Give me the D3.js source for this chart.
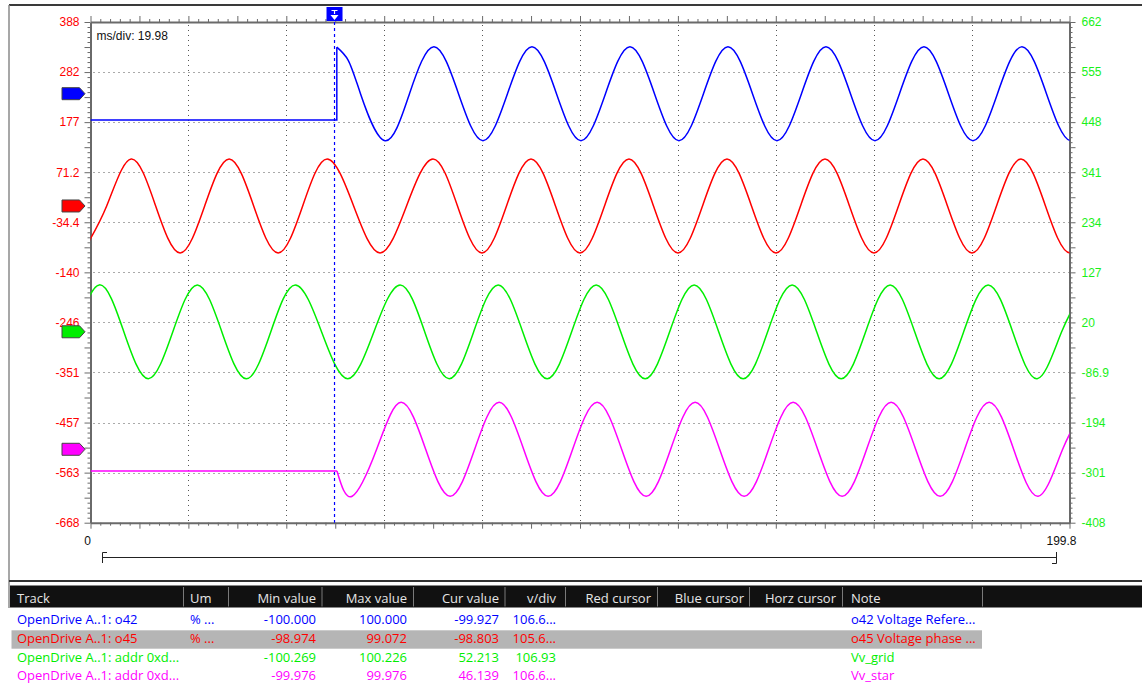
<!DOCTYPE html>
<html lang="en">
<head>
<meta charset="UTF-8">
<title>OpenDrive scope capture</title>
<script src="https://d3js.org/d3.v7.min.js"></script>
<style>
  body { margin: 0; background: #fff; }
  svg { display: block; }
</style>
</head>
<body>
<div id="scope"></div>
<script>
const msDomain = [0, 199.8];
const msPerDiv = "19.98";
const triggerMs = 49.8;

const leftTickVals   = [388, 282.4, 176.8, 71.2, -34.4, -140, -245.6, -351.2, -456.8, -562.4, -668];
const leftTickLabels = ["388", "282", "177", "71.2", "-34.4", "-140", "-246", "-351", "-457", "-563", "-668"];
const rightTickVals   = [662, 555, 448, 341, 234, 127, 20, -86.9, -194, -301, -408];
const rightTickLabels = ["662", "555", "448", "341", "234", "127", "20", "-86.9", "-194", "-301", "-408"];
const xTickLabels = ["0", "199.8"];

// o42 Voltage reference (blue): idle level, then steps onto the sine at the trigger
const o42Idle = -56, o42StepMs = 50.27;
const o42Ms  = [50.27, 52.6, 55.1, 60.1, 65.1, 70.1, 75.1, 80.1, 85.1, 90.1, 95.1, 100.1, 105.1, 110.1, 115.1, 120.1,
                125.1, 130.1, 135.1, 140.1, 145.1, 150.1, 155.1, 160.1, 165.1, 170.1, 175.1, 180.1, 185.1, 190.1,
                195.1, 200.1, 205.1];
const o42Val = [99, 71, 0, -100, 0, 100, 0, -100, 0, 100, 0, -100, 0, 100, 0, -100,
                0, 100, 0, -100, 0, 100, 0, -100, 0, 100, 0, -100, 0, 100,
                0, -100, 0];

// o45 Voltage phase (red) - left axis
const o45Ms  = [-1.7, 3.3, 8.3, 13.3, 18.3, 23.3, 28.3, 33.3, 38.3, 43.3, 48.3, 53.7, 59.1, 64.5, 69.9, 74.9,
                79.9, 84.9, 89.9, 94.9, 99.9, 104.9, 109.9, 114.9, 119.9, 124.9, 129.9, 134.9, 139.9, 144.9,
                149.9, 154.9, 159.9, 164.9, 169.9, 174.9, 179.9, 184.9, 189.9, 194.9, 199.9, 204.9];
const o45Val = [-99, 0, 99.1, 0, -99, 0, 99.1, 0, -99, 0, 99.1, 0, -99, 0, 99.1, 0,
                -99, 0, 99.1, 0, -99, 0, 99.1, 0, -99, 0, 99.1, 0, -99, 0,
                99.1, 0, -99, 0, 99.1, 0, -99, 0, 99.1, 0, -99, 0];

// Vv_grid (green) - right axis
const gridMs  = [-8.2, -3.2, 1.8, 6.8, 11.8, 16.8, 21.8, 26.8, 31.8, 36.8, 41.8, 47.15, 52.5, 57.85, 63.2, 68.2,
                 73.2, 78.2, 83.2, 88.2, 93.2, 98.2, 103.2, 108.2, 113.2, 118.2, 123.2, 128.2, 133.2, 138.2,
                 143.2, 148.2, 153.2, 158.2, 163.2, 168.2, 173.2, 178.2, 183.2, 188.2, 193.2, 198.2, 203.2];
const gridVal = [-100.3, 0, 100.2, 0, -100.3, 0, 100.2, 0, -100.3, 0, 100.2, 0, -100.3, 0, 100.2, 0,
                 -100.3, 0, 100.2, 0, -100.3, 0, 100.2, 0, -100.3, 0, 100.2, 0, -100.3, 0,
                 100.2, 0, -100.3, 0, 100.2, 0, -100.3, 0, 100.2, 0, -100.3, 0, 100.2];

// Vv_star (magenta): idle level until the trigger
const starIdle = -46.2, starStepMs = 50.3;
const starMs  = [50.3, 53.4, 58.4, 63.4, 68.4, 73.4, 78.4, 83.4, 88.4, 93.4, 98.4, 103.4, 108.4, 113.4, 118.4, 123.4,
                 128.4, 133.4, 138.4, 143.4, 148.4, 153.4, 158.4, 163.4, 168.4, 173.4, 178.4, 183.4, 188.4, 193.4,
                 198.4, 203.4];
const starVal = [-46.2, -100, 0, 100, 0, -100, 0, 100, 0, -100, 0, 100, 0, -100, 0, 100,
                 0, -100, 0, 100, 0, -100, 0, 100, 0, -100, 0, 100, 0, -100,
                 0, 100];

// track table
const tableHeaders = ["Track", "Um", "Min value", "Max value", "Cur value", "v/div", "Red cursor", "Blue cursor", "Horz cursor", "Note"];
const trackNames = ["OpenDrive A..1: o42", "OpenDrive A..1: o45", "OpenDrive A..1: addr 0xd...", "OpenDrive A..1: addr 0xd..."];
const trackUnits = ["% ...", "% ...", "", ""];
const minVals = ["-100.000", "-98.974", "-100.269", "-99.976"];
const maxVals = ["100.000", "99.072", "100.226", "99.976"];
const curVals = ["-99.927", "-98.803", "52.213", "46.139"];
const vPerDiv = ["106.6...", "105.6...", "106.93", "106.6..."];
const notes = ["o42 Voltage Refere...", "o45 Voltage phase ...", "Vv_grid", "Vv_star"];

// ---------- layout ----------
const W = 1142, H = 684;
const plot = {left: 90.5, right: 1069.5, top: 22, bottom: 522.7};
const colors = {blue: "#0000ff", red: "#ff0000", green: "#00ee00", magenta: "#ff00ff"};
const trackColors = [colors.blue, colors.red, colors.green, colors.magenta];
const axisGrey = "#6a6a6a";

const svg = d3.select("#scope").append("svg")
    .attr("width", W).attr("height", H)
    .style("font-family", "'Liberation Sans', Arial, sans-serif");

// window frame
svg.append("line").attr("x1", 9).attr("x2", W).attr("y1", 5).attr("y2", 5)
    .attr("stroke", "#3a3a3a").attr("stroke-width", 2);
svg.append("line").attr("x1", 9).attr("x2", 9).attr("y1", 5).attr("y2", 608)
    .attr("stroke", "#8a8a8a").attr("stroke-width", 1.5);

// scales
const x = d3.scaleLinear(msDomain, [plot.left, plot.right]);
function trackScale(topVal, vdiv) {
    return d3.scaleLinear([topVal - 10 * vdiv, topVal], [plot.bottom, plot.top]);
}
const yLeft  = trackScale(388, 105.6);   // o45
const yRight = trackScale(662, 107);     // Vv_grid
const yO42   = trackScale(152.6, 106.6);
const yStar  = trackScale(909.7, 106.6);

// grid
const divMs = d3.range(1, 10).map(k => msDomain[0] + k * (msDomain[1] - msDomain[0]) / 10);
const divLeft = leftTickVals.slice(1, -1);
const grid = svg.append("g").attr("stroke", "#555").attr("stroke-width", 1).attr("stroke-dasharray", "1,4");
grid.selectAll(".vg").data(divMs).enter().append("line")
    .attr("x1", d => Math.round(x(d)) + 0.5).attr("x2", d => Math.round(x(d)) + 0.5)
    .attr("y1", plot.top + 3).attr("y2", plot.bottom);
grid.selectAll(".hg").data(divLeft).enter().append("line")
    .attr("y1", d => Math.round(yLeft(d)) + 0.5).attr("y2", d => Math.round(yLeft(d)) + 0.5)
    .attr("x1", plot.left + 3).attr("x2", plot.right);

// minor tick axes on all four sides
function tickLen(i) { return i % 10 === 0 || i % 5 === 0 ? 6 : 3; }
const msSub = d3.range(0, 101).map(k => k * (msDomain[1] - msDomain[0]) / 100);
const ySub = d3.range(0, 101).map(k => -668 + k * 10.56);

function minorAxis(axis, vals, transform, attr, sign) {
    const g = svg.append("g").attr("transform", transform)
        .call(axis.tickValues(vals).tickFormat("").tickSizeOuter(0));
    g.select(".domain").attr("stroke", axisGrey).attr("stroke-width", 2);
    g.selectAll(".tick line").attr("stroke", axisGrey).attr(attr, (d, i) => sign * tickLen(i));
    return g;
}
minorAxis(d3.axisTop(x), msSub, `translate(0,${plot.top})`, "y2", -1);
minorAxis(d3.axisBottom(x), msSub, `translate(0,${plot.bottom})`, "y2", 1);
minorAxis(d3.axisLeft(yLeft), ySub, `translate(${plot.left},0)`, "x2", -1);
minorAxis(d3.axisRight(yLeft), ySub, `translate(${plot.right},0)`, "x2", 1);

// tick labels
const leftAxis = svg.append("g").attr("transform", `translate(${plot.left},0)`)
    .call(d3.axisLeft(yLeft).tickValues(leftTickVals).tickSize(0).tickPadding(11)
        .tickFormat((d, i) => leftTickLabels[i]));
leftAxis.select(".domain").remove();
leftAxis.selectAll("text").attr("fill", colors.red).style("font-size", "12px")
    .style("font-family", "'Liberation Sans', Arial, sans-serif");

const rightAxis = svg.append("g").attr("transform", `translate(${plot.right},0)`)
    .call(d3.axisRight(yRight).tickValues(rightTickVals).tickSize(0).tickPadding(12)
        .tickFormat((d, i) => rightTickLabels[i]));
rightAxis.select(".domain").remove();
rightAxis.selectAll("text").attr("fill", "#19f019").style("font-size", "12px")
    .style("font-family", "'Liberation Sans', Arial, sans-serif");

svg.append("text").attr("x", x(msDomain[0]) - 3).attr("y", 545).attr("text-anchor", "middle")
    .attr("font-size", 12).attr("fill", "#111").text(xTickLabels[0]);
svg.append("text").attr("x", x(msDomain[1]) + 7).attr("y", 545).attr("text-anchor", "end")
    .attr("font-size", 12).attr("fill", "#111").text(xTickLabels[1]);

svg.append("text").attr("x", 96.5).attr("y", 40).attr("font-size", 12).attr("fill", "#111")
    .text("ms/div: " + msPerDiv);

// scroll bracket under the plot
const br = svg.append("g").attr("stroke", "#222").attr("stroke-width", 1).attr("fill", "none");
br.append("path").attr("d", "M107,552.5 H102.5 V563 M102.5,557.5 H1056.5 M1052,563.5 H1056.5 V552");

// traces
svg.append("clipPath").attr("id", "plotClip").append("rect")
    .attr("x", plot.left).attr("y", plot.top).attr("width", plot.right - plot.left).attr("height", plot.bottom - plot.top);
const traces = svg.append("g").attr("clip-path", "url(#plotClip)").attr("fill", "none").attr("stroke-width", 1.5);

const smooth = d3.line().curve(d3.curveNatural);
const straight = d3.line();

function drawTrack(ms, vals, yScale, color) {
    traces.append("path").attr("stroke", color)
        .attr("d", smooth(ms.map((t, i) => [x(t), yScale(vals[i])])));
}
// o42: flat idle, vertical step, then sine
traces.append("path").attr("stroke", colors.blue)
    .attr("d", straight([[x(0), yO42(o42Idle)], [x(o42StepMs), yO42(o42Idle)], [x(o42StepMs), yO42(o42Val[0])]]));
drawTrack(o42Ms, o42Val, yO42, colors.blue);
drawTrack(o45Ms, o45Val, yLeft, colors.red);
drawTrack(gridMs, gridVal, yRight, colors.green);
traces.append("path").attr("stroke", colors.magenta)
    .attr("d", straight([[x(0), yStar(starIdle)], [x(starStepMs), yStar(starIdle)]]));
drawTrack(starMs, starVal, yStar, colors.magenta);

// trigger line + marker
svg.append("line").attr("x1", x(triggerMs)).attr("x2", x(triggerMs))
    .attr("y1", plot.top).attr("y2", plot.bottom)
    .attr("stroke", colors.blue).attr("stroke-width", 1.2).attr("stroke-dasharray", "3,3");
const tx = x(triggerMs);
svg.append("rect").attr("x", tx - 8).attr("y", 7).attr("width", 16).attr("height", 14).attr("fill", colors.blue);
svg.append("path").attr("d", `M${tx - 3},10.5 H${tx + 3} M${tx},10.5 V14`).attr("stroke", "#fff").attr("stroke-width", 1.2);
svg.append("path").attr("d", `M${tx - 4},15 H${tx + 4} L${tx},20 Z`).attr("fill", "#fff");

// track zero markers on the left
const zeroLevels = [yO42(0), yLeft(0), yRight(0), yStar(0)];
svg.selectAll(".marker").data(zeroLevels).enter().append("path")
    .attr("d", y => `M62,${y - 6} H79.5 L85,${y} L79.5,${y + 6} H62 Z`)
    .attr("fill", (d, i) => trackColors[i])
    .attr("stroke", "#444").attr("stroke-width", 1);

// ---------- track table ----------
const tableFont = "'Open Sans', 'Noto Sans', sans-serif";
svg.append("line").attr("x1", 9).attr("x2", W).attr("y1", 581).attr("y2", 581)
    .attr("stroke", "#333").attr("stroke-width", 2);
svg.append("rect").attr("x", 10).attr("y", 585.5).attr("width", W - 10).attr("height", 22).attr("fill", "#111");

const colX = [17, 190, 316, 407, 499, 556, 651, 744, 836, 851];
const colAnchor = ["start", "start", "end", "end", "end", "end", "end", "end", "end", "start"];
const sepX = [183, 228, 321.5, 413, 504.5, 565, 657, 749, 842, 982];

svg.selectAll(".sep").data(sepX).enter().append("line")
    .attr("x1", d => d + 0.5).attr("x2", d => d + 0.5).attr("y1", 587).attr("y2", 606.5)
    .attr("stroke", "#7a7a7a").attr("stroke-width", 1);

svg.selectAll(".hdr").data(tableHeaders).enter().append("text")
    .attr("x", (d, i) => colX[i]).attr("y", 602.5).attr("text-anchor", (d, i) => colAnchor[i])
    .style("font-family", tableFont).style("font-size", "13px").attr("fill", "#e6e6e6")
    .text(d => d);

// highlighted (selected) row
svg.append("rect").attr("x", 11.5).attr("y", 630.3).attr("width", 982 - 11.5).attr("height", 18.4).attr("fill", "#b5b5b5");

const rows = trackNames.map((name, i) => [name, trackUnits[i], minVals[i], maxVals[i], curVals[i], vPerDiv[i], "", "", "", notes[i]]);
rows.forEach((row, r) => {
    svg.append("g").selectAll("text").data(row).enter().append("text")
        .attr("x", (d, i) => colX[i]).attr("y", 624.3 + r * 18.65)
        .attr("text-anchor", (d, i) => colAnchor[i])
        .style("font-family", tableFont).style("font-size", "13px")
        .attr("fill", trackColors[r])
        .text(d => d);
});
</script>
</body>
</html>
